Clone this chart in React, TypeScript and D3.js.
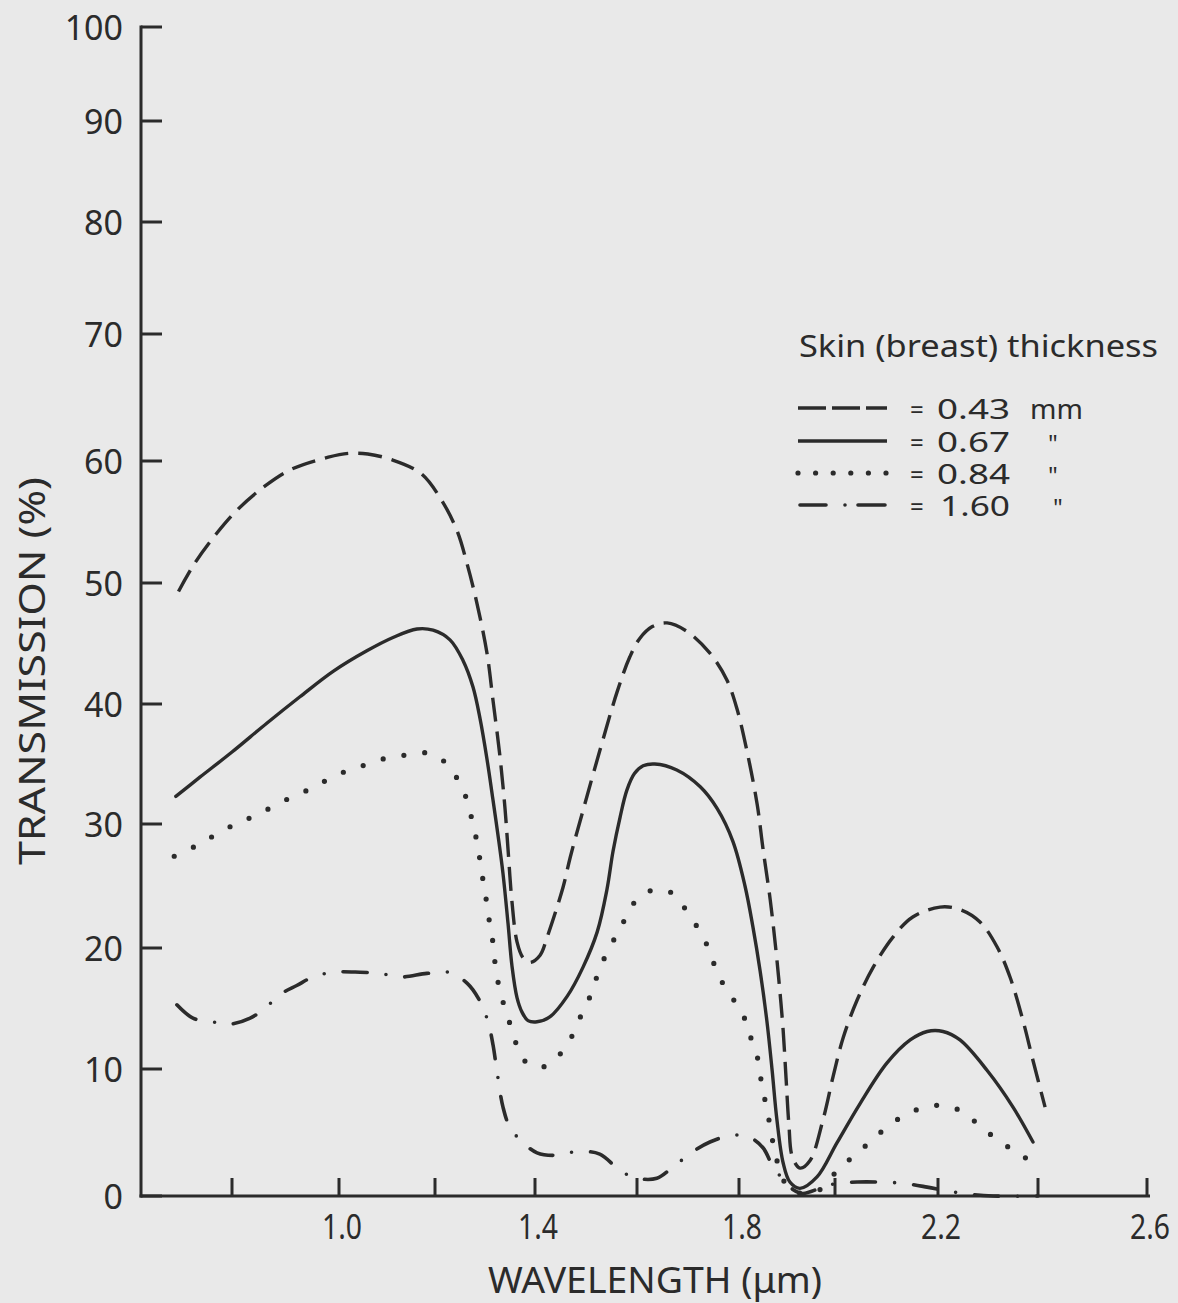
import React from 'react';
import * as d3 from 'd3';

// ---------- data ----------
const xTickValues = [0.8, 1.0, 1.2, 1.4, 1.6, 1.8, 2.0, 2.2, 2.4, 2.6];
const xLabelValues = [1.0, 1.4, 1.8, 2.2, 2.6];
const yTickValues = [0, 10, 20, 30, 40, 50, 60, 70, 80, 90, 100];

const legendTitle = 'Skin (breast) thickness';
const thicknessLabels = ['0.43', '0.67', '0.84', '1.60'];
const thicknessUnits = ['mm', '"', '"', '"'];

// wavelength (µm), transmission (%)
const skin043: [number, number][] = [
  [0.70, 49.3], [0.73, 51.6], [0.77, 54.0], [0.81, 56.0], [0.86, 57.9], [0.91, 59.3], [0.98, 60.3],
  [1.02, 60.6], [1.06, 60.55], [1.11, 60.1], [1.17, 59.0], [1.21, 57.0], [1.244, 54.3], [1.264, 51.6],
  [1.284, 48.3], [1.304, 44.2], [1.316, 40.3], [1.33, 35.6], [1.34, 31.3], [1.346, 28.0], [1.354, 23.7],
  [1.364, 20.5], [1.376, 19.2], [1.39, 18.8], [1.41, 19.4], [1.424, 20.9], [1.455, 24.9], [1.469, 27.3],
  [1.494, 31.1], [1.527, 36.1], [1.561, 41.0], [1.586, 43.9], [1.605, 45.4], [1.63, 46.4], [1.659, 46.7],
  [1.698, 46.0], [1.743, 44.2], [1.776, 42.0], [1.796, 39.6], [1.817, 36.0], [1.838, 31.6], [1.85, 28.0],
  [1.865, 23.9], [1.877, 19.8], [1.885, 16.5], [1.892, 13.2], [1.898, 9.3], [1.904, 5.6], [1.911, 3.1],
  [1.927, 2.2], [1.948, 2.8], [1.975, 6.0], [1.996, 9.4], [2.016, 12.6], [2.043, 15.7], [2.074, 18.4],
  [2.113, 20.9], [2.151, 22.5], [2.204, 23.3], [2.244, 23.1], [2.284, 22.1], [2.318, 20.1], [2.344, 17.6],
  [2.37, 14.0], [2.39, 10.7], [2.413, 7.0],
];

const skin067: [number, number][] = [
  [0.695, 32.3], [0.74, 33.9], [0.80, 36.0], [0.865, 38.4], [0.927, 40.6], [0.989, 42.7], [1.058, 44.4],
  [1.1125, 45.5], [1.1625, 46.2], [1.196, 46.1], [1.23, 45.3], [1.256, 43.6], [1.276, 41.4], [1.29, 38.8],
  [1.304, 35.4], [1.316, 32.0], [1.326, 29.1], [1.336, 26.0], [1.346, 22.0], [1.354, 18.5], [1.364, 15.9],
  [1.374, 14.7], [1.386, 14.0], [1.404, 13.9], [1.429, 14.3], [1.463, 16.0], [1.494, 18.4], [1.522, 21.3],
  [1.541, 24.7], [1.553, 27.8], [1.567, 30.6], [1.58, 32.8], [1.595, 34.2], [1.612, 34.85], [1.635, 35.0],
  [1.678, 34.5], [1.724, 33.1], [1.757, 31.3], [1.788, 28.6], [1.8125, 25.0], [1.829, 21.7], [1.844, 18.1],
  [1.858, 14.0], [1.869, 9.9], [1.879, 6.0], [1.892, 2.6], [1.906, 1.1], [1.927, 0.6], [1.9625, 1.5],
  [2.004, 4.2], [2.049, 7.3], [2.101, 10.5], [2.146, 12.4], [2.179, 13.1], [2.21, 13.1], [2.244, 12.4],
  [2.298, 9.9], [2.35, 7.0], [2.39, 4.25],
];

const skin084: [number, number][] = [
  [0.692, 27.4], [0.731, 28.2], [0.772, 29.2], [0.811, 30.1], [0.847, 30.75], [0.888, 31.75], [0.931, 32.6],
  [0.966, 33.4], [1.002, 34.2], [1.042, 34.75], [1.09, 35.4], [1.14, 35.75], [1.1875, 35.9], [1.224, 35.0],
  [1.248, 33.5], [1.266, 31.75], [1.276, 29.9], [1.286, 28.2], [1.292, 26.4], [1.30, 24.6], [1.306, 22.8],
  [1.314, 21.0], [1.32, 18.8], [1.328, 16.8], [1.34, 15.0], [1.356, 13.0], [1.374, 10.9], [1.408, 10.1],
  [1.439, 10.8], [1.467, 12.3], [1.49, 14.4], [1.512, 16.4], [1.525, 18.1], [1.547, 20.1], [1.569, 21.7],
  [1.588, 23.3], [1.618, 24.5], [1.661, 24.6], [1.69, 23.4], [1.718, 21.7], [1.741, 19.9], [1.757, 18.0],
  [1.778, 16.4], [1.806, 14.7], [1.821, 13.0], [1.84, 10.7], [1.848, 8.6], [1.858, 6.9], [1.867, 5.0],
  [1.875, 3.4], [1.892, 1.3], [1.906, 0.5], [1.938, 0.2], [1.973, 0.6], [2.004, 2.0], [2.035, 3.1],
  [2.068, 4.25], [2.103, 5.5], [2.142, 6.5], [2.186, 7.1], [2.228, 7.0], [2.26, 6.3], [2.29, 5.3],
  [2.326, 4.25], [2.362, 3.3], [2.398, 2.5],
];

const skin160: [number, number][] = [
  [0.697, 15.3], [0.727, 14.2], [0.763, 13.9], [0.796, 13.7], [0.834, 14.2], [0.858, 14.9], [0.895, 16.3],
  [0.921, 16.9], [0.951, 17.6], [0.989, 18.0], [1.044, 18.0], [1.085, 17.9], [1.127, 17.6], [1.183, 17.9],
  [1.226, 18.0], [1.264, 17.1], [1.29, 15.6], [1.306, 13.9], [1.316, 12.0], [1.324, 9.8], [1.336, 7.0],
  [1.35, 5.4], [1.376, 4.2], [1.404, 3.4], [1.435, 3.2], [1.484, 3.5], [1.527, 3.3], [1.567, 2.0],
  [1.60, 1.4], [1.639, 1.4], [1.671, 2.3], [1.71, 3.5], [1.743, 4.25], [1.788, 4.8], [1.823, 4.6],
  [1.85, 3.8], [1.871, 2.3], [1.892, 1.3], [1.913, 0.5], [1.933, 0.2], [1.975, 0.7], [2.004, 1.0],
  [2.043, 1.1], [2.082, 1.1], [2.132, 1.0], [2.179, 0.7], [2.218, 0.4], [2.26, 0.15], [2.31, 0.0],
  [2.4, 0.0],
];

const seriesList = [skin043, skin067, skin084, skin160];

// ---------- layout / style ----------
const W = 1178;
const H = 1303;
const INK = '#2b2b2b';
const BG = '#e9e9e9';
const FONT = "'Noto Sans', 'DejaVu Sans', sans-serif";
// pixel positions of the reference's (slightly uneven) tick marks
const X_RANGE = [232, 339, 435, 535, 637, 739, 835, 938, 1038, 1147];
const Y_RANGE = [1196, 1069, 948, 824, 704, 583, 461, 334, 222, 121, 27];

const styles = [
  { dash: '24 10', width: 3.4, cap: 'butt' as const },
  { dash: undefined, width: 3.4, cap: 'round' as const },
  { dash: '0 21', width: 5.2, cap: 'round' as const },
  { dash: '24 19 0 19', width: 3.6, cap: 'round' as const },
];
const legendDash = ['28 6', undefined, '0 17.6', '26 19 0 13 40'];
const legendCap = ['butt', 'butt', 'round', 'round'] as const;

export default function App() {
  const x = d3.scaleLinear().domain(xTickValues).range(X_RANGE);
  const y = d3.scaleLinear().domain(yTickValues).range(Y_RANGE);
  const line = d3
    .line<[number, number]>()
    .x((d) => x(d[0]))
    .y((d) => y(d[1]))
    .curve(d3.curveCatmullRom.alpha(0.5));

  const axisX = 141;
  const axisY = y(0);
  const legendSymY = [408, 441, 473, 505];
  const legendBase = [419, 452, 484, 516];
  const numX = [937, 937, 937, 940];
  const unitX = [1030, 1048, 1048, 1053];

  return (
    <div style={{ position: 'absolute', left: 0, top: 0, width: W, height: H, background: BG }}>
      <svg width={W} height={H} style={{ display: 'block' }} fontFamily={FONT}>
        <rect x={0} y={0} width={W} height={H} fill={BG} />

        {/* axes */}
        <line x1={axisX} x2={axisX} y1={y(100) - 1.5} y2={axisY + 1.5} stroke={INK} strokeWidth={3} />
        <line x1={axisX - 1.5} x2={1150} y1={axisY} y2={axisY} stroke={INK} strokeWidth={3} />
        {yTickValues.map((v) => (
          <g key={'y' + v}>
            <line x1={axisX} x2={axisX + 21} y1={y(v)} y2={y(v)} stroke={INK} strokeWidth={3} />
            <text x={123} y={y(v) + 13} textAnchor="end" fontSize={34} fill={INK}>
              {v}
            </text>
          </g>
        ))}
        {xTickValues.map((v) => (
          <line key={'xt' + v} x1={x(v)} x2={x(v)} y1={axisY} y2={axisY - 18} stroke={INK} strokeWidth={3} />
        ))}
        {xLabelValues.map((v) => (
          <text
            key={'xl' + v}
            x={x(v) + 3}
            y={1239}
            textAnchor="middle"
            fontSize={34}
            fill={INK}
            textLength={40}
            lengthAdjust="spacingAndGlyphs"
          >
            {v.toFixed(1)}
          </text>
        ))}

        {/* axis titles */}
        <text
          x={488}
          y={1293}
          fontSize={36}
          fill={INK}
          textLength={334}
          lengthAdjust="spacingAndGlyphs"
        >
          WAVELENGTH (μm)
        </text>
        <text
          transform="translate(45,671) rotate(-90)"
          textAnchor="middle"
          fontSize={36}
          fill={INK}
          textLength={388}
          lengthAdjust="spacingAndGlyphs"
        >
          TRANSMISSION (%)
        </text>

        {/* curves */}
        {seriesList.map((s, i) => (
          <path
            key={'s' + i}
            d={line(s) || ''}
            fill="none"
            stroke={INK}
            strokeWidth={styles[i].width}
            strokeDasharray={styles[i].dash}
            strokeLinecap={styles[i].cap}
            strokeLinejoin="round"
          />
        ))}

        {/* legend */}
        <text x={799} y={357} fontSize={31} fill={INK} textLength={359} lengthAdjust="spacingAndGlyphs">
          {legendTitle}
        </text>
        {thicknessLabels.map((lab, i) => (
          <g key={'lg' + i}>
            <line
              x1={i === 3 ? 800 : 798}
              x2={i === 3 ? 885 : 887}
              y1={legendSymY[i]}
              y2={legendSymY[i]}
              stroke={INK}
              strokeWidth={i === 2 ? 5.2 : 3.6}
              strokeDasharray={legendDash[i]}
              strokeLinecap={legendCap[i]}
            />
            <text x={910} y={legendBase[i] - 1} fontSize={24} fill={INK}>
              =
            </text>
            <text
              x={numX[i]}
              y={legendBase[i]}
              fontSize={28}
              fill={INK}
              textLength={i === 3 ? 70 : 73}
              lengthAdjust="spacingAndGlyphs"
            >
              {lab}
            </text>
            <text
              x={unitX[i]}
              y={legendBase[i]}
              fontSize={i === 0 ? 28 : 24}
              fill={INK}
              textLength={i === 0 ? 53 : undefined}
              lengthAdjust="spacingAndGlyphs"
            >
              {thicknessUnits[i]}
            </text>
          </g>
        ))}
      </svg>
    </div>
  );
}
